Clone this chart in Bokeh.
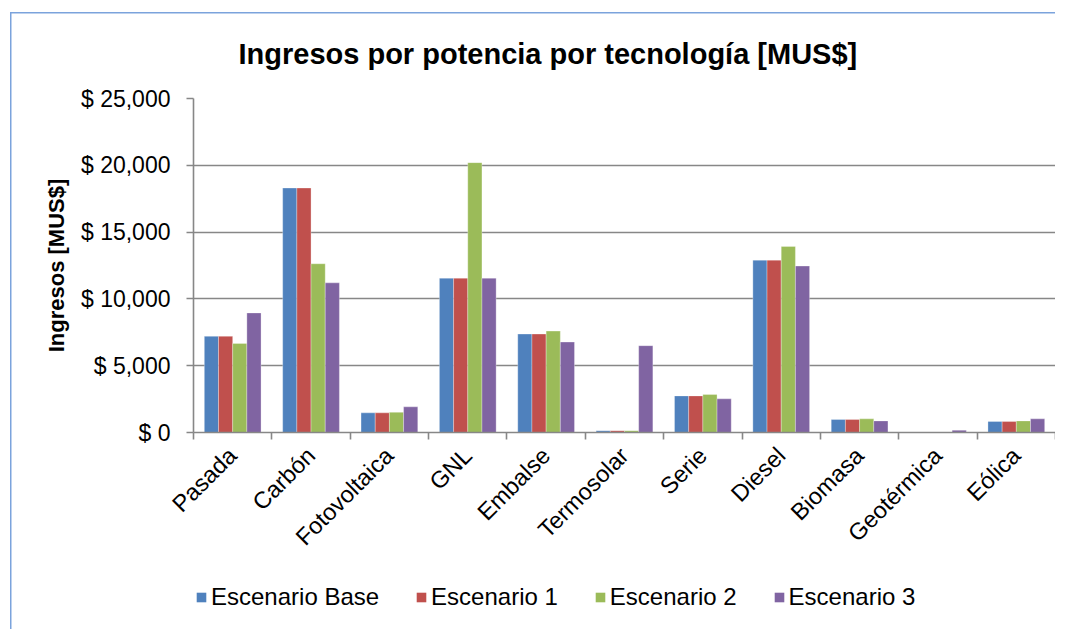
from bokeh.plotting import figure
from bokeh.layouts import column
from bokeh.models import (ColumnDataSource, Range1d, LinearAxis, FixedTicker,
                          Legend, LegendItem, Title, Grid)
from bokeh.transform import dodge
from bokeh.embed import file_html
from bokeh.resources import INLINE
import math

categories = ["Pasada", "Carbón", "Fotovoltaica", "GNL", "Embalse", "Termosolar",
              "Serie", "Diesel", "Biomasa", "Geotérmica", "Eólica"]
esc_base = [7200, 18300, 1470, 11550, 7370, 130, 2740, 12900, 970, 0, 820]
esc_1 = [7200, 18300, 1470, 11550, 7370, 130, 2740, 12900, 970, 0, 820]
esc_2 = [6670, 12630, 1510, 20200, 7590, 130, 2840, 13930, 1020, 0, 870]
esc_3 = [8950, 11200, 1920, 11550, 6770, 6500, 2520, 12460, 870, 170, 1020]
series_names = ["Escenario Base", "Escenario 1", "Escenario 2", "Escenario 3"]
series_colors = ["#4F81BD", "#C0504D", "#9BBB59", "#8064A2"]
y_ticks = [0, 5000, 10000, 15000, 20000, 25000]
y_tick_labels = ["$ 0", "$ 5,000", "$ 10,000", "$ 15,000", "$ 20,000", "$ 25,000"]

FONT = "Liberation Sans"
GRID = "#878787"
BORDER = "#7BA3DC"

n = len(categories)
centers = [i + 0.5 for i in range(n)]
bounds = list(range(n + 1))
src = ColumnDataSource(dict(x=centers, s0=esc_base, s1=esc_1, s2=esc_2, s3=esc_3))

p = figure(width=1055, height=570, x_range=Range1d(0, n), y_range=Range1d(0, 25000),
           x_axis_type=None, y_axis_type=None, output_backend="svg",
           toolbar_location=None, min_border_left=193, min_border_right=0,
           min_border_top=98, min_border_bottom=138)
p.outline_line_color = None
p.background_fill_color = "white"
p.border_fill_alpha = 0

p.title = Title(text="Ingresos por potencia por tecnología [MUS$]", align="left",
                offset=45, text_font=FONT, text_font_size="29px",
                text_font_style="bold", text_color="black", standoff=58)

bw = 0.181
offs = [-1.5 * bw, -0.5 * bw, 0.5 * bw, 1.5 * bw]
for k, col in enumerate(series_colors):
    p.vbar(x=dodge("x", offs[k], range=p.x_range), top="s%d" % k, width=bw,
           source=src, fill_color=col, line_color="white", line_width=0.6,
           line_alpha=0.5)

# y axis
yax = LinearAxis(ticker=FixedTicker(ticks=y_ticks),
                 major_label_overrides={t: l for t, l in zip(y_ticks, y_tick_labels)})
yax.axis_label = "Ingresos [MUS$]"
yax.axis_label_text_font = FONT
yax.axis_label_text_font_size = "22px"
yax.axis_label_text_font_style = "bold"
yax.axis_label_text_color = "black"
yax.axis_label_standoff = 9
yax.major_label_text_font = FONT
yax.major_label_text_font_size = "23px"
yax.major_label_text_color = "black"
yax.major_label_standoff = 16
yax.major_tick_out = 7
yax.major_tick_in = 0
yax.minor_tick_line_color = None
yax.axis_line_color = GRID
yax.axis_line_width = 1.6
yax.major_tick_line_color = GRID
yax.major_tick_line_width = 1.6
p.add_layout(yax, "left")

# x axis: ticks between categories (no labels)
xtick = LinearAxis(ticker=FixedTicker(ticks=bounds),
                   major_label_overrides={b: "" for b in bounds},
                   major_label_text_font_size="1px", major_label_standoff=0)
xtick.major_tick_out = 7
xtick.major_tick_in = 0
xtick.minor_tick_line_color = None
xtick.axis_line_color = GRID
xtick.axis_line_width = 1.6
xtick.major_tick_line_color = GRID
xtick.major_tick_line_width = 1.6
p.add_layout(xtick, "below")

# x axis: category labels
xlab = LinearAxis(ticker=FixedTicker(ticks=centers),
                  major_label_overrides={c: name for c, name in zip(centers, categories)})
xlab.axis_line_color = None
xlab.major_tick_line_color = None
xlab.minor_tick_line_color = None
xlab.major_tick_out = 0
xlab.major_tick_in = 0
xlab.major_label_standoff = 12
xlab.major_label_orientation = math.pi / 4
xlab.major_label_text_font = FONT
xlab.major_label_text_font_size = "23.5px"
xlab.major_label_text_color = "black"
p.add_layout(xlab, "below")

p.xgrid.visible = False
p.ygrid.visible = False
g = Grid(dimension=1, ticker=FixedTicker(ticks=y_ticks), grid_line_color=GRID,
         grid_line_width=1.6)
p.add_layout(g)

# legend strip (swatches are zero-height proxies)
p2 = figure(width=1055, height=59, x_range=Range1d(0, 1), y_range=Range1d(0, 1),
            x_axis_type=None, y_axis_type=None, output_backend="svg",
            toolbar_location=None, min_border=0)
p2.outline_line_color = None
p2.xgrid.visible = False
p2.ygrid.visible = False
p2.background_fill_alpha = 0
p2.border_fill_alpha = 0
proxy = ColumnDataSource(dict(x=[0.5], top=[0], bottom=[0]))
items = []
for name, col in zip(series_names, series_colors):
    r = p2.vbar(x="x", top="top", bottom="bottom", width=0.001, source=proxy,
                fill_color=col, line_color=None)
    items.append(LegendItem(label=name, renderers=[r]))
legend = Legend(items=items, orientation="horizontal", location=(2, 18),
                label_text_font=FONT, label_text_font_size="24px",
                label_text_color="black", glyph_width=12, glyph_height=12,
                label_standoff=4, spacing=36, border_line_color=None,
                background_fill_alpha=0, padding=0, margin=0)
p2.add_layout(legend)

bg = ("linear-gradient(%s,%s) 10px 12px / 1.5px 100%% no-repeat, "
      "linear-gradient(%s,%s) 10px 12px / 100%% 1.5px no-repeat, white") % (
          BORDER, BORDER, BORDER, BORDER)
layout = column(p, p2, spacing=0, styles={"background": bg})

open("out.html", "w").write(file_html(layout, INLINE))
